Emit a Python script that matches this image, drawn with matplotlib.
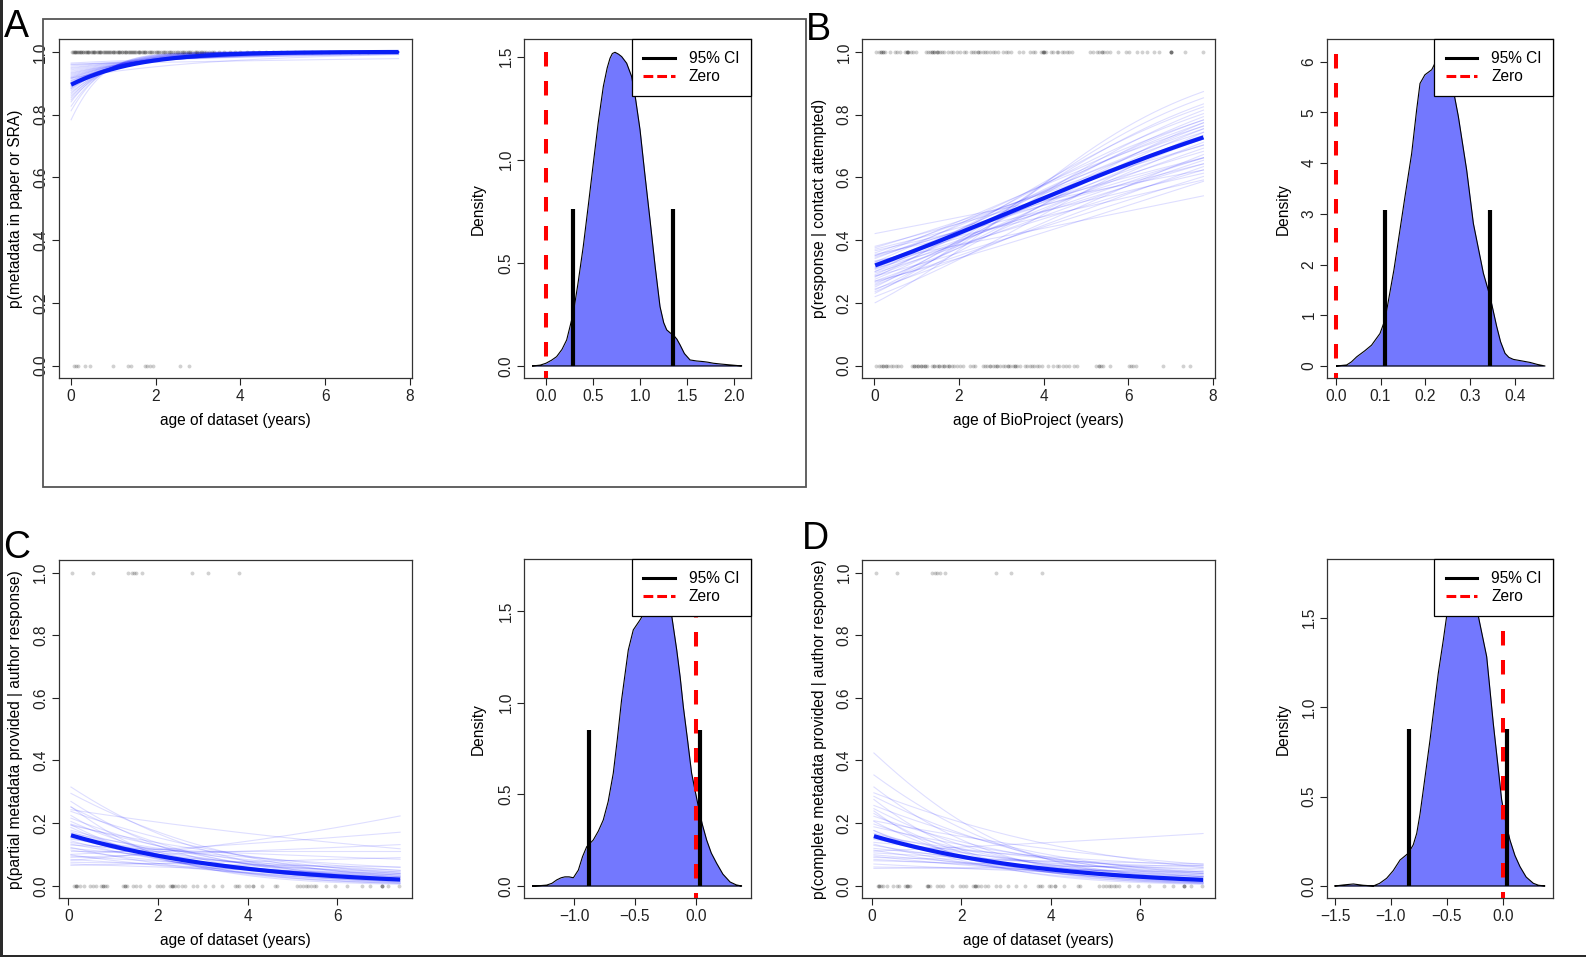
import numpy as np
import matplotlib
matplotlib.use("Agg")
import matplotlib.pyplot as plt
from matplotlib.lines import Line2D
from matplotlib.patches import Rectangle

plt.rcParams['font.family'] = ['Liberation Sans', 'DejaVu Sans']

# ---------------- DATA ----------------
# Panel A: metadata in paper or SRA vs age of dataset
A_age_yes = [0.03,0.05,0.08,0.10,0.12,0.15,0.17,0.20,0.22,0.25,0.28,0.30,0.33,0.36,0.38,0.41,0.44,0.47,0.50,0.52,
             0.55,0.58,0.61,0.64,0.66,0.69,0.72,0.75,0.78,0.81,0.84,0.87,0.90,0.93,0.96,0.99,1.02,1.05,1.08,1.11,
             1.14,1.17,1.20,1.22,1.25,1.28,1.31,1.34,1.37,1.40,1.43,1.46,1.49,1.52,1.55,1.58,1.61,1.64,1.67,1.70,
             1.73,1.76,1.80,1.84,1.88,1.92,1.96,2.00,2.04,2.08,2.12,2.17,2.22,2.27,2.32,2.37,2.42,2.47,2.52,2.57,
             2.62,2.67,2.72,2.77,2.82,2.87,2.92,2.97,3.02,3.08,3.14,3.20,3.26,3.32,3.38,3.50,3.62,3.75,3.88,4.00,
             4.15,4.30,4.45,4.60,4.78,4.95,5.10,5.30,5.50,5.70,5.90,6.10,6.35,6.60,6.80,7.00,
             0.10,0.25,0.40,0.55,0.70,0.85,1.00,1.15,1.30,1.45,1.60,1.75,1.90,2.05,2.20,2.35,2.50,2.65,2.80,2.95,3.10]
A_age_no = [0.08,0.13,0.18,0.34,0.46,1.00,1.34,1.41,1.75,1.81,1.86,1.95,2.58,2.80]
A_fit = (2.14, 0.72)           # intercept, slope (logit scale)
A_draw_int = [1.27,1.45,1.55,1.65,1.70,1.75,1.80,1.85,1.90,1.95,2.00,2.02,2.05,2.08,2.10,2.12,2.15,2.18,2.20,2.22,
              2.25,2.28,2.30,2.35,2.38,2.42,2.45,2.50,2.55,2.60,2.65,2.72,2.80,2.88,2.95,3.05,3.15,3.20,3.30,2.40]
A_draw_slope = [1.70,1.55,1.40,1.35,1.20,1.25,1.10,1.15,1.00,1.05,0.95,0.90,0.98,0.85,0.88,0.80,0.82,0.75,0.78,0.70,
                0.72,0.68,0.65,0.62,0.66,0.58,0.60,0.55,0.52,0.50,0.45,0.42,0.38,0.35,0.32,0.28,0.22,0.08,0.20,0.30]
A_age_range = (0.01, 7.73)
A_dens_x = [-0.142,-0.06,0.0,0.06,0.113,0.17,0.22,0.29,0.34,0.396,0.45,0.503,0.555,0.609,0.65,0.68,0.705,0.733,
            0.77,0.804,0.857,0.91,0.95,0.999,1.05,1.105,1.16,1.211,1.25,1.282,1.32,1.353,1.39,1.424,1.47,1.53,
            1.60,1.672,1.72,1.778,1.86,1.955,2.079]
A_dens_y = [0,0.004,0.013,0.028,0.045,0.08,0.126,0.255,0.40,0.579,0.78,0.983,1.18,1.355,1.445,1.492,1.515,1.521,
            1.512,1.50,1.468,1.403,1.30,1.145,0.93,0.708,0.48,0.288,0.21,0.175,0.16,0.15,0.13,0.102,0.06,0.029,
            0.024,0.021,0.018,0.013,0.009,0.005,0]
A_ci = [0.29, 1.345]

# Panel B: response | contact attempted vs age of BioProject
B_age_yes = [0.04,0.10,0.15,0.20,0.25,0.37,0.49,0.54,0.61,0.73,0.77,0.80,0.86,0.92,0.99,1.22,1.28,1.32,1.36,1.41,
             1.47,1.51,1.55,1.59,1.65,1.75,1.81,1.87,1.95,2.03,2.11,2.17,2.28,2.33,2.38,2.44,2.50,2.56,2.62,2.67,
             2.74,2.80,2.85,2.93,3.05,3.11,3.17,3.22,3.41,3.52,3.68,3.74,3.80,3.93,3.98,4.01,4.06,4.17,4.23,4.31,
             4.35,4.43,4.48,4.55,4.61,4.67,5.10,5.16,5.26,5.32,5.38,5.43,5.49,5.56,5.77,5.95,6.01,6.20,6.32,6.44,
             6.60,6.74,7.01,7.01,7.01,7.01,7.35,7.76,
             0.15,0.20,0.77,0.80,1.36,1.41,1.47,2.44,3.98,4.01,5.38]
B_age_no = [0.04,0.10,0.15,0.21,0.28,0.33,0.39,0.45,0.51,0.57,0.62,0.88,0.94,0.99,1.04,1.10,1.14,1.20,1.25,1.36,
            1.41,1.47,1.54,1.59,1.65,1.71,1.77,1.83,1.88,1.95,2.03,2.09,2.26,2.33,2.38,2.56,2.62,2.67,2.74,2.80,
            2.85,2.91,2.97,3.03,3.09,3.15,3.21,3.27,3.33,3.38,3.44,3.56,3.62,3.67,3.72,3.78,3.84,3.90,3.96,4.11,
            4.22,4.31,4.37,4.45,4.53,4.61,4.71,4.80,5.24,5.30,5.35,5.41,5.56,6.01,6.06,6.12,6.18,6.82,7.29,7.46,
            0.21,0.28,0.94,1.04,1.10,1.20,1.41,1.54,1.65,1.77,2.74,2.91,3.15,3.33,5.30]
B_fit = (-0.76, 0.224)
B_draw_int = [-0.32,-0.49,-0.51,-0.53,-0.58,-0.60,-0.62,-0.64,-0.66,-0.69,-0.71,-0.73,-0.75,-0.78,-0.80,-0.82,-0.85,
              -0.85,-0.87,-0.90,-0.92,-0.94,-0.97,-1.00,-1.02,-1.05,-1.07,-1.10,-1.13,-1.15,-1.18,-1.21,-1.27,-1.39,
              -0.55,-0.62,-0.71,-0.80,-0.92,-1.00]
B_draw_slope = [0.106,0.150,0.176,0.144,0.197,0.125,0.230,0.181,0.222,0.110,0.256,0.205,0.241,0.187,0.261,0.236,
                0.290,0.214,0.194,0.281,0.242,0.320,0.276,0.245,0.202,0.308,0.282,0.349,0.238,0.338,0.310,0.382,
                0.300,0.427,0.130,0.166,0.167,0.168,0.172,0.174]
B_age_range = (0.02, 7.78)
B_dens_x = [0.002,0.0245,0.035,0.0468,0.065,0.08,0.0988,0.11,0.13,0.1546,0.1695,0.1806,0.1881,0.199,0.2142,0.229,
            0.24,0.25,0.2624,0.2736,0.2922,0.3071,0.3294,0.3443,0.3591,0.3677,0.3777,0.3863,0.3963,0.415,0.4335,
            0.45,0.4669]
B_dens_y = [0,0.02,0.08,0.18,0.30,0.41,0.64,0.91,1.9,3.34,4.19,5.05,5.57,5.74,5.84,6.10,6.15,6.0,5.44,4.92,3.86,
            2.81,1.83,1.37,0.78,0.48,0.25,0.17,0.13,0.10,0.07,0.03,0]
B_ci = [0.11, 0.345]

# Panels C and D: partial / complete metadata provided | author response vs age of dataset
CD_age_yes = [0.09,0.56,1.34,1.41,1.47,1.52,1.64,2.77,3.12,3.81]
CD_age_no = [0.13,0.17,0.20,0.26,0.34,0.48,0.56,0.62,0.74,0.78,0.82,0.86,1.23,1.26,1.30,1.45,1.52,1.60,1.79,1.97,
             2.05,2.12,2.27,2.31,2.34,2.38,2.45,2.53,2.60,2.79,2.86,3.05,3.22,3.42,3.72,3.77,3.81,3.96,4.02,4.11,
             4.31,4.61,4.65,5.09,5.17,5.24,5.30,5.35,5.41,5.47,5.52,5.75,5.95,6.21,6.54,6.73,6.99,6.99,6.99,7.14,
             7.38,0.17,0.78,1.26,2.31,4.11]
C_fit = (-1.632, -0.306)
C_draw_int = [-0.75,-0.85,-0.97,-1.07,-1.13,-1.15,-1.21,-1.27,-1.33,-1.39,-1.42,-1.45,-1.52,-1.55,-1.59,-1.62,-1.66,
              -1.70,-1.74,-1.77,-1.82,-1.86,-1.90,-1.95,-1.99,-2.04,-2.09,-2.20,-2.25,-2.31,-2.38,-2.44,-2.20,-2.51,
              -2.59,-2.67,-1.05,-1.39]
C_draw_slope = [-0.430,-0.361,-0.472,-0.387,-0.119,-0.278,-0.495,-0.329,-0.392,-0.265,-0.209,-0.431,-0.269,-0.321,
                -0.202,-0.372,-0.228,-0.270,-0.140,-0.305,-0.187,-0.232,-0.065,-0.307,-0.131,-0.197,0.0,-0.232,
                -0.110,0.057,-0.129,0.161,0.084,-0.033,-0.081,0.048,-0.583,-0.471]
C_age_range = (0.06, 7.40)
C_dens_x = [-1.339,-1.28,-1.224,-1.18,-1.142,-1.105,-1.074,-1.04,-1.005,-0.964,-0.93,-0.896,-0.842,-0.80,-0.76,-0.72,
            -0.678,-0.645,-0.61,-0.555,-0.514,-0.459,-0.418,-0.37,-0.33,-0.26,-0.199,-0.158,-0.13,-0.104,-0.07,
            -0.036,0.019,0.05,0.087,0.125,0.169,0.22,0.279,0.33,0.374]
C_dens_y = [0,0.002,0.005,0.015,0.033,0.045,0.05,0.05,0.045,0.087,0.16,0.214,0.251,0.30,0.36,0.46,0.615,0.80,1.015,
            1.287,1.397,1.451,1.497,1.62,1.70,1.62,1.473,1.287,1.14,0.978,0.80,0.615,0.433,0.34,0.251,0.18,0.124,
            0.065,0.022,0.006,0]
C_ci = [-0.877, 0.033]

D_fit = (-1.654, -0.311)
D_draw_int = [-0.28,-0.58,-0.75,-0.85,-0.90,-0.94,-1.05,-1.10,-1.18,-1.24,-1.33,-1.39,-1.45,-1.52,-1.59,-1.66,-1.70,
              -1.74,-1.82,-1.86,-1.90,-1.99,-2.04,-2.09,-2.14,-2.20,-2.25,-2.31,-2.38,-2.44,-2.59,-2.75,-2.84,-1.13,
              -1.33,-1.52]
D_draw_slope = [-0.535,-0.455,-0.502,-0.261,-0.354,-0.550,-0.292,-0.398,-0.468,-0.285,-0.173,-0.312,-0.220,-0.397,
                -0.259,-0.176,-0.301,-0.198,-0.117,-0.319,-0.216,-0.146,-0.254,0.065,-0.084,-0.154,-0.194,-0.037,
                -0.110,-0.055,-0.122,-0.042,0.024,-0.572,-0.449,-0.453]
D_age_range = (0.05, 7.41)
D_dens_x = [-1.5,-1.42,-1.336,-1.25,-1.157,-1.10,-1.038,-0.98,-0.918,-0.844,-0.80,-0.769,-0.74,-0.71,-0.65,-0.576,
            -0.531,-0.501,-0.44,-0.36,-0.28,-0.218,-0.143,-0.084,-0.04,-0.009,0.03,0.065,0.11,0.155,0.21,0.274,
            0.32,0.378]
D_dens_y = [0,0.006,0.011,0.004,0,0.015,0.043,0.085,0.145,0.183,0.23,0.294,0.40,0.537,0.816,1.189,1.375,1.509,1.66,
            1.75,1.68,1.509,1.282,0.909,0.66,0.481,0.35,0.257,0.17,0.108,0.05,0.015,0.004,0]
D_ci = [-0.838, 0.041]

ylab_A = "p(metadata in paper or SRA)"
ylab_B = "p(response | contact attempted)"
ylab_C = "p(partial metadata provided | author response)"
ylab_D = "p(complete metadata provided | author response)"
xlab_A = "age of dataset (years)"
xlab_B = "age of BioProject (years)"
legend_labels = ["95% CI", "Zero"]

# ---------------- LAYOUT ----------------
W, H = 1586, 957
fig = plt.figure(figsize=(W / 100, H / 100), dpi=100)
FS = 11.2
DENS_COLOR = '#7378fe'


def add_ax(l, t, r, b):
    return fig.add_axes([l / W, 1 - b / H, (r - l) / W, (b - t) / H])


def base_style(ax, w, h, xticks, xlabels, yticks, ylabels, xlim, ylim, ylabel, ylab_off, xlabel=None):
    ax.set_xlim(*xlim)
    ax.set_ylim(*ylim)
    ax.set_xticks(xticks)
    ax.set_xticklabels(xlabels, fontsize=FS)
    ax.set_yticks(yticks)
    ax.set_yticklabels(ylabels, fontsize=FS, rotation=90, va='center')
    ax.tick_params(axis='both', direction='out', length=5.0, width=0.8, colors='#222222')
    ax.tick_params(axis='x', pad=3.0)
    ax.tick_params(axis='y', pad=2.7)
    for s in ax.spines.values():
        s.set_linewidth(0.9)
        s.set_color('#333333')
    ax.set_ylabel(ylabel, fontsize=FS)
    ax.yaxis.set_label_coords(-ylab_off / w, 0.5)
    if xlabel:
        ax.set_xlabel(xlabel, fontsize=FS)
        ax.xaxis.set_label_coords(0.5, -35.0 / h)


def logistic(z):
    return 1.0 / (1.0 + np.exp(-z))


def prob_panel(box, yes, no, fit, d_int, d_slope, age_range, xlim, xticks, ylabel, xlabel):
    l, t, r, b = box
    ax = add_ax(l, t, r, b)
    xs = np.linspace(age_range[0], age_range[1], 200)
    for a0, b0 in zip(d_int, d_slope):
        ax.plot(xs, logistic(a0 + b0 * xs), color='blue', lw=0.8, alpha=0.13, zorder=2)
    ax.plot(xs, logistic(fit[0] + fit[1] * xs), color='#0a1ef5', lw=3.0, zorder=4, solid_capstyle='butt')
    ax.scatter(yes, np.ones(len(yes)), s=8, color='black', alpha=0.18, linewidths=0, zorder=3)
    ax.scatter(no, np.zeros(len(no)), s=8, color='black', alpha=0.18, linewidths=0, zorder=3)
    base_style(ax, r - l, b - t, xticks, [str(int(v)) for v in xticks],
               [0, 0.2, 0.4, 0.6, 0.8, 1.0], ['0.0', '0.2', '0.4', '0.6', '0.8', '1.0'],
               xlim, (-0.04, 1.04), ylabel, 35.5, xlabel)
    return ax


def fmt(v, nd):
    s = f"{v:.{nd}f}"
    return s.replace('-', '\u2212')


def dens_panel(box, dx, dy, ci, xlim, ylim, xticks, yticks, ynd, ylab_off):
    l, t, r, b = box
    ax = add_ax(l, t, r, b)
    dx = np.asarray(dx)
    dy = np.asarray(dy)
    ax.fill_between(dx, 0, dy, color=DENS_COLOR, linewidth=0, zorder=2)
    ax.plot(np.r_[dx, dx[::-1][:1], dx[:1]], np.r_[dy, [0, 0]], color='black', lw=0.8, zorder=3)
    top = dy.max()
    ax.vlines(ci, 0, top / 2, color='black', lw=3.0, zorder=4)
    # dashes start at the top, as in the original
    ax.plot([0, 0], [top, ylim[0] - 1], color='red', lw=2.9, dashes=(3.6, 3.6), zorder=5)
    base_style(ax, r - l, b - t, xticks, [fmt(v, 1) for v in xticks],
               yticks, [fmt(v, ynd) for v in yticks], xlim, ylim, "Density", ylab_off)
    handles = [Line2D([], [], color='black', lw=2.2),
               Line2D([], [], color='red', lw=2.2, dashes=(3.2, 1.3))]
    leg = ax.legend(handles, legend_labels, loc='upper right', bbox_to_anchor=(1, 1), borderaxespad=0,
                    fancybox=False, edgecolor='black', framealpha=1, fontsize=FS, handlelength=2.0,
                    handletextpad=0.9, borderpad=0.75, labelspacing=0.22)
    leg.get_frame().set_linewidth(0.9)
    leg.set_zorder(10)
    return ax


prob_panel((59, 39.3, 411.7, 378.3), A_age_yes, A_age_no, A_fit, A_draw_int, A_draw_slope, A_age_range,
           (-0.276, 8.04), [0, 2, 4, 6, 8], ylab_A, xlab_A)
dens_panel((524.3, 39.3, 750.7, 378.3), A_dens_x, A_dens_y, A_ci, (-0.23, 2.174), (-0.06, 1.584),
           [0.0, 0.5, 1.0, 1.5, 2.0], [0.0, 0.5, 1.0, 1.5], 1, 39.0)

prob_panel((862.3, 39.3, 1215.3, 378.3), B_age_yes, B_age_no, B_fit, B_draw_int, B_draw_slope, B_age_range,
           (-0.284, 8.06), [0, 2, 4, 6, 8], ylab_B, xlab_B)
dens_panel((1327.3, 39.3, 1553.3, 378.3), B_dens_x, B_dens_y, B_ci, (-0.0187, 0.4854), (-0.243, 6.44),
           [0.0, 0.1, 0.2, 0.3, 0.4], [0, 1, 2, 3, 4, 5, 6], 0, 37.0)

prob_panel((59, 560, 412, 898.3), CD_age_yes, CD_age_no, C_fit, C_draw_int, C_draw_slope, C_age_range,
           (-0.207, 7.666), [0, 2, 4, 6], ylab_C, xlab_A)
dens_panel((524.3, 559.3, 750.7, 898.3), C_dens_x, C_dens_y, C_ci, (-1.407, 0.448), (-0.067, 1.782),
           [-1.0, -0.5, 0.0], [0.0, 0.5, 1.0, 1.5], 1, 39.0)

prob_panel((862.3, 560, 1215, 898.3), CD_age_yes, CD_age_no, D_fit, D_draw_int, D_draw_slope, D_age_range,
           (-0.21, 7.677), [0, 2, 4, 6], ylab_D, xlab_A)
dens_panel((1327.3, 559.3, 1553.3, 898.3), D_dens_x, D_dens_y, D_ci, (-1.569, 0.453), (-0.069, 1.826),
           [-1.5, -1.0, -0.5, 0.0], [0.0, 0.5, 1.0, 1.5], 1, 37.0)

# panel letters
for letter, px, py in [("A", 4, 37), ("B", 806, 40), ("C", 3, 558), ("D", 802, 549)]:
    fig.text(px / W, 1 - py / H, letter, fontsize=27, ha='left', va='baseline', color='black')

# frame around panel A
fig.add_artist(Rectangle((43 / W, 1 - 487 / H), (806 - 43) / W, (487 - 19) / H, transform=fig.transFigure,
                         fill=False, edgecolor='#555555', lw=1.3))
# dark screenshot edges
fig.add_artist(Rectangle((0, 0), 3 / W, 1, transform=fig.transFigure, color='#2a2a2a', lw=0))
fig.add_artist(Rectangle((0, 0), 1, 2.5 / H, transform=fig.transFigure, color='#2a2a2a', lw=0))

fig.savefig("out.png", dpi=100)
